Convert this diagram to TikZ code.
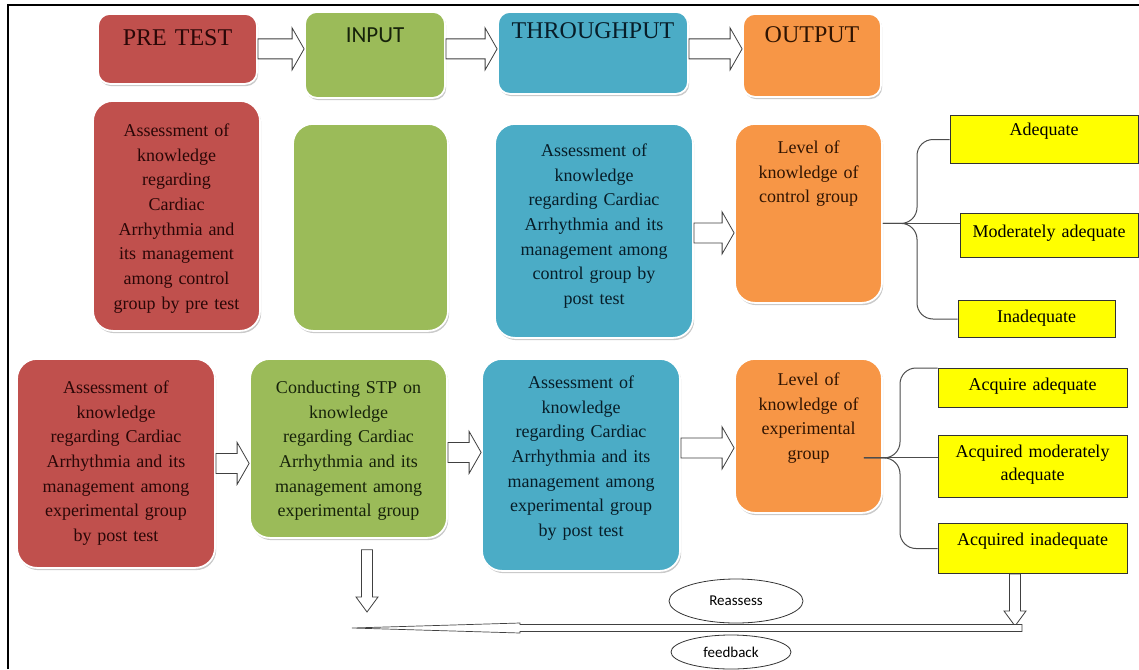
\documentclass[tikz,border=0pt]{standalone}
\usepackage{fontspec}
\setmainfont{Liberation Serif}
\newfontfamily\calibfont{Carlito}
\usepackage{tikz}
\usetikzlibrary{calc}
\usetikzlibrary{shapes.geometric}
\usetikzlibrary{shadows}
\definecolor{StageRed}{HTML}{C0504D}
\definecolor{StageGreen}{HTML}{9BBB59}
\definecolor{StageBlue}{HTML}{4BACC6}
\definecolor{StageOrange}{HTML}{F79646}
\definecolor{LevelYellow}{HTML}{FFFF00}
\definecolor{InkRed}{HTML}{2A0707}
\definecolor{InkGreen}{HTML}{16220A}
\definecolor{InkBlue}{HTML}{071D28}
\definecolor{InkOrange}{HTML}{301402}
% hollow block arrow, left to right (optional arg: shift of the shaft, down positive)
\newcommand{\harrow}[3][0]{%
  \draw[blockarrow] let \p1=(#2), \p2=(#3), \p3=({0pt},{\y1-(#1pt)}) in
    (\x1,{\y3+10pt}) -- ({\x2-12pt},{\y3+10pt}) -- ({\x2-12pt},{\y3+21pt})
    -- (\x2,\y3) -- ({\x2-12pt},{\y3-21pt}) -- ({\x2-12pt},{\y3-10pt})
    -- (\x1,{\y3-10pt}) -- cycle;%
}
% hollow block arrow, downwards
\newcommand{\varrow}[2]{%
  \draw[blockarrow] let \p1=(#1), \p2=(#2) in
    ({\x1-5.5pt},\y1) -- ({\x1-5.5pt},{\y2+15pt}) -- ({\x1-11pt},{\y2+15pt})
    -- (\x1,\y2) -- ({\x1+11pt},{\y2+15pt}) -- ({\x1+5.5pt},{\y2+15pt})
    -- ({\x1+5.5pt},\y1) -- cycle;%
}
% long thin feedback arrow, right to left
\newcommand{\farrow}[2]{%
  \draw[blockarrow, line width=.7pt] let \p1=(#1), \p2=(#2) in
    (\x1,{\y1+3.5pt}) -- ({\x2+168pt},{\y1+3.5pt}) -- ({\x2+168pt},{\y1+5pt})
    -- (\x2,\y2) -- ({\x2+168pt},{\y1-5pt}) -- ({\x2+168pt},{\y1-3.5pt})
    -- (\x1,{\y1-3.5pt}) -- cycle;%
}

\begin{document}
\begin{tikzpicture}[x=1pt,y=-1pt,
  stage/.style={draw=white, line width=1.8pt, rounded corners=20pt, inner sep=0pt,
    anchor=north, align=center, font=\fontsize{18}{24.7}\selectfont,
    drop shadow={shadow xshift=1.2pt, shadow yshift=-2.2pt, opacity=.35, fill=black!60}},
  stagehead/.style={stage, rounded corners=12pt, font=\fontsize{24}{28}\selectfont},
  levelbox/.style={draw=black!80, line width=1pt, fill=LevelYellow, inner sep=0pt,
    anchor=north, align=center, font=\fontsize{18}{23}\selectfont},
  blockarrow/.style={draw=black!75, fill=white, line width=.8pt, line join=miter},
  branch/.style={draw=black!70, line width=1pt, rounded corners=16pt},
  loopnote/.style={ellipse, draw=black!80, line width=.8pt, inner sep=0pt,
    font=\calibfont\fontsize{15}{18}\selectfont}]

  \clip (0,0) rectangle (1139,669);
  \draw[line width=2pt] (8,669) -- (8,5) -- (1139,5);

  % ----- header row -----
  \node[stagehead, fill=StageRed, text=InkRed, text width=159pt,
        text height=32pt, text depth=38pt] (pre) at (177.5,13) {PRE TEST};
  \node[stagehead, fill=StageGreen, text=InkGreen, text width=140pt,
        text height=31pt, text depth=55pt, font=\calibfont\fontsize{23}{28}\selectfont]
        (inp) at (375,11) {INPUT};
  \node[stagehead, fill=StageBlue, text=InkBlue, text width=190pt,
        text height=27pt, text depth=55pt] (thr) at (593,11) {THROUGHPUT};
  \node[stagehead, fill=StageOrange, text=InkOrange, text width=138pt,
        text height=29pt, text depth=54pt] (out) at (812,13) {OUTPUT};

  \harrow{pre.east}{inp.west}
  \harrow[-6]{inp.east}{thr.west}
  \harrow[-4]{thr.east}{out.west}

  % ----- control group -----
  \node[stage, fill=StageRed, text=InkRed, text width=167pt,
        text height=35.5pt, text depth=194.5pt] (r2) at (176.5,100)
        {Assessment of\\knowledge\\regarding\\Cardiac\\Arrhythmia and\\its management\\among control\\group by pre test};
  \node[stage, fill=StageGreen, minimum width=155pt, minimum height=207pt] (g2) at (370.5,123) {};
  \node[stage, fill=StageBlue, text=InkBlue, text width=198pt,
        text height=32.5pt, text depth=181.5pt] (b2) at (594,123)
        {Assessment of\\knowledge\\regarding Cardiac\\Arrhythmia and its\\management among\\control group by\\post test};
  \node[stage, fill=StageOrange, text=InkOrange, text width=147pt,
        text height=29.5pt, text depth=149.5pt] (o2) at (808.5,123)
        {Level of\\knowledge of\\control group};

  \harrow[2]{b2.east}{o2.west}

  \node[levelbox, text width=188pt, text height=20pt, text depth=28pt] (ad) at (1044,115) {Adequate};
  \node[levelbox, text width=178pt, text height=24pt, text depth=20pt] (mod) at (1049,213) {Moderately adequate};
  \node[levelbox, text width=157pt, text height=22pt, text depth=15pt] (inad) at (1036.5,300) {Inadequate};

  \coordinate (br2) at ([yshift=-10pt]o2.east);
  \coordinate (sp2) at (917,223);
  \draw[branch] (br2) -| (sp2 |- ad.west) -- (ad.west);
  \draw[branch] (br2) -- (br2 -| mod.west);
  \draw[branch] (br2) -| (sp2 |- inad.west) -- (inad.west);

  % ----- experimental group -----
  \node[stage, fill=StageRed, text=InkRed, text width=198pt,
        text height=34.5pt, text depth=174.5pt] (r3) at (116,358)
        {Assessment of\\knowledge\\regarding Cardiac\\Arrhythmia and its\\management among\\experimental group\\by post test};
  \node[stage, fill=StageGreen, text=InkGreen, text width=197pt,
        text height=34.5pt, text depth=144.5pt] (g3) at (348.5,358)
        {Conducting STP on\\knowledge\\regarding Cardiac\\Arrhythmia and its\\management among\\experimental group};
  \node[stage, fill=StageBlue, text=InkBlue, text width=198pt,
        text height=29.5pt, text depth=182.5pt] (b3) at (581,358)
        {Assessment of\\knowledge\\regarding Cardiac\\Arrhythmia and its\\management among\\experimental group\\by post test};
  \node[stage, fill=StageOrange, text=InkOrange, text width=147pt,
        text height=26.5pt, text depth=127.5pt] (o3) at (808.5,358)
        {Level of\\knowledge of\\experimental\\group};

  \harrow{r3.east}{g3.west}
  \harrow[4]{g3.east}{b3.west}
  \harrow[-17]{b3.east}{o3.west}

  \node[levelbox, text width=189pt, text height=22pt, text depth=17pt] (aad) at (1032.5,368) {Acquire adequate};
  \node[levelbox, text width=189pt, text height=22pt, text depth=40pt] (amd) at (1032.5,435) {Acquired moderately\\adequate};
  \node[levelbox, text width=189pt, text height=22pt, text depth=28pt] (ain) at (1032.5,523) {Acquired inadequate};

  \coordinate (br3) at ([xshift=-19pt,yshift=-22pt]o3.east);
  \coordinate (sp3) at (900,457);
  \draw[branch] (br3) -| (sp3 |- aad.north west) -- (aad.north west);
  \draw[branch] (br3) -- (br3 -| amd.west);
  \draw[branch] (br3) -| (sp3 |- ain.west) -- (ain.west);

  % ----- feedback loop -----
  \coordinate (dnL) at (367,612);
  \coordinate (dnR) at (1015,626);
  \coordinate (fbR) at (1022,628);
  \coordinate (fbL) at (352,628);
  \varrow{$(g3.south)+(18.5,11)$}{dnL}
  \varrow{$(ain.south)+(-17.5,0)$}{dnR}
  \farrow{fbR}{fbL}

  \node[loopnote, minimum width=134pt, minimum height=44pt] (reas) at (736,601) {Reassess};
  \node[loopnote, minimum width=120pt, minimum height=34pt] (feed) at (731,652) {feedback};
\end{tikzpicture}
\end{document}
